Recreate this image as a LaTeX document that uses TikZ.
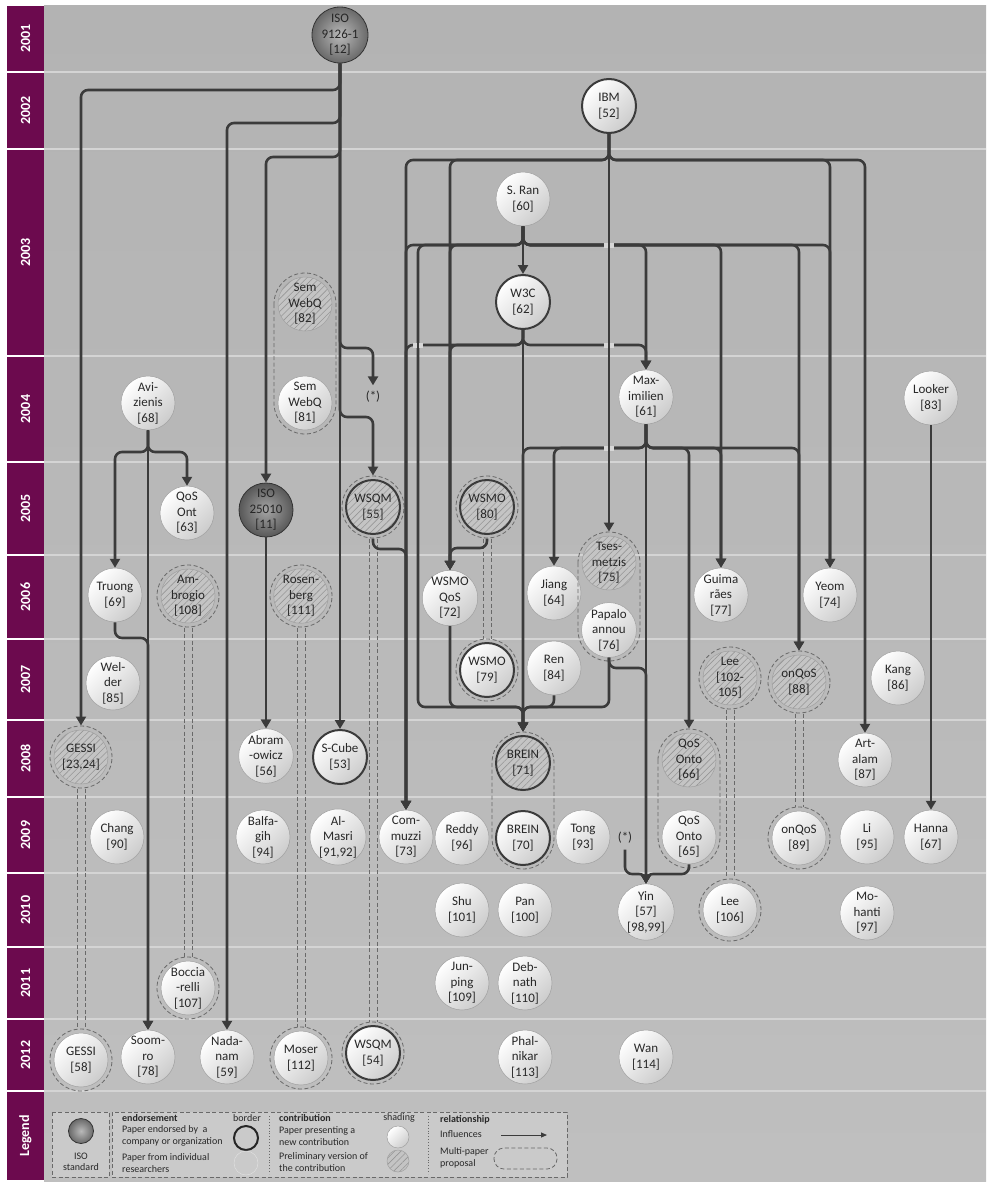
\documentclass[tikz,border=0pt]{standalone}
\usepackage{fontspec}
\newfontfamily\carlito{Carlito}
\usetikzlibrary{arrows.meta, patterns.meta, math}
\definecolor{plum}{RGB}{108,10,78}
\definecolor{bgtop}{RGB}{179,179,179}
\definecolor{bgbot}{RGB}{191,191,191}
\definecolor{wiregray}{RGB}{59,59,59}
\definecolor{txtgray}{RGB}{40,40,40}
\definecolor{rimgray}{RGB}{160,160,160}
\definecolor{hatchbg}{RGB}{196,196,196}
\definecolor{hatchline}{RGB}{150,150,150}
\definecolor{dashgray}{RGB}{105,105,105}
\definecolor{sepgray}{RGB}{212,212,212}
\definecolor{gapgray}{RGB}{215,215,215}
\definecolor{legendbg}{RGB}{202,202,202}
\definecolor{isoin}{RGB}{185,185,185}
\definecolor{isoout}{RGB}{105,105,105}
\definecolor{isodarkin}{RGB}{165,165,165}
\definecolor{isodarkout}{RGB}{88,88,88}

\newcommand{\nodefont}{\carlito\fontsize{13}{15.5}\selectfont}
\newcommand{\legendfont}{\carlito\fontsize{10}{11.5}\selectfont}
\newcommand{\rf}[1]{[#1]}

\tikzset{
  disc/.style={circle, minimum size=54pt, inner sep=0pt, align=center, font=\nodefont,
    text=txtgray, draw=rimgray, line width=0.5pt},
  paper/.style={disc, top color=white, bottom color=gray!40, shading angle=45},
  prelim/.style={disc, preaction={fill=hatchbg},
    pattern={Lines[angle=45,distance=4.5pt,line width=0.6pt]}, pattern color=hatchline},
  firm/.style={draw=wiregray, line width=2pt},
  iso/.style={disc, inner color=isoin, outer color=isoout, draw=gray!40!black,
    line width=0.8pt, text=black!85},
  grouped/.style={outer sep=4.5pt},
  ringline/.style={draw=dashgray, dash pattern=on 4pt off 2.5pt, line width=0.8pt},
  wire/.style={draw=wiregray, line width=2.6pt},
  infl/.style={wire, rounded corners=7pt, -{Triangle[width=10pt,length=9pt]}},
  startext/.style={font=\nodefont, text=txtgray, inner sep=1pt, outer sep=5pt},
  yearlabel/.style={text=white, rotate=90, font=\carlito\bfseries\fontsize{14}{14}\selectfont},
  yearline/.style={draw=sepgray, line width=1.2pt},
  lgtext/.style={font=\legendfont, text=txtgray, align=left, anchor=west, inner sep=0pt},
}

\begin{document}
\begin{tikzpicture}[x=1pt, y=-1pt]
\tikzmath{
\rg=31;
\dd=4;
}
\useasboundingbox (0,0) rectangle (986,1183);
%background
\shade[top color=bgtop, bottom color=bgbot] (44,5) rectangle (986,1181);
\foreach \y in {72,149,356,462,555,639,720,797,873,947,1019,1091}
  \draw[yearline] (44,\y) -- (986,\y);
%year band
\foreach \yt/\yb/\lab in {5/72/2001,72/149/2002,149/356/2003,356/462/2004,462/555/2005,555/639/2006,639/720/2007,720/797/2008,797/873/2009,873/947/2010,947/1019/2011,1019/1091/2012,1091/1181/Legend}{
  \fill[plum] (7,\yt+1) rectangle (44,\yb-1);
  \node[yearlabel] (yr\lab) at (25.5,{(\yt+\yb)/2}) {\lab};
}

%2001-2003
\node[iso, minimum size=56pt] (iso9126) at (340,35) {ISO\\9126-1\\\rf{12}};
\node[paper, firm] (ibm) at (609,106) {IBM\\\rf{52}};
\node[paper] (sran) at (523,199) {S. Ran\\\rf{60}};
\node[paper, firm] (w3c) at (523,302) {W3C\\\rf{62}};
\node[prelim] (sem82) at (305,304) {Sem\\WebQ\\\rf{82}};
%2004
\node[paper] (aviz) at (148,403) {Avi-\\zienis\\\rf{68}};
\node[paper] (sem81) at (305,403) {Sem\\WebQ\\\rf{81}};
\node[startext] (starA) at (373,397) {(*)};
\node[paper] (maxim) at (646,397) {Max-\\imilien\\\rf{61}};
\node[paper] (looker) at (931,398) {Looker\\\rf{83}};
%2005
\node[paper] (qosont) at (187,513) {QoS\\Ont\\\rf{63}};
\node[iso, inner color=isodarkin, outer color=isodarkout] (iso25010) at (266,510) {ISO\\25010\\\rf{11}};
\node[prelim, firm, grouped] (wsqm55) at (373,507) {WSQM\\\rf{55}};
\node[prelim, firm, grouped] (wsmo80) at (487,507) {WSMO\\\rf{80}};
%2006
\node[paper] (truong) at (115,595) {Truong\\\rf{69}};
\node[prelim, grouped] (ambrogio) at (188,596) {Am-\\brogio\\\rf{108}};
\node[prelim, grouped] (rosenberg) at (301,596) {Rosen-\\berg\\\rf{111}};
\node[paper] (wsmoqos) at (450,598) {WSMO\\QoS\\\rf{72}};
\node[paper] (jiang) at (554,593) {Jiang\\\rf{64}};
\node[prelim, grouped] (tses) at (609,563) {Tses-\\metzis\\\rf{75}};
\node[paper] (papalo) at (609,630) {Papalo\\annou\\\rf{76}};
\node[paper] (guima) at (721,595) {Guima\\rães\\\rf{77}};
\node[paper] (yeom) at (830,595) {Yeom\\\rf{74}};
%2007
\node[paper] (welder) at (113,683) {Wel-\\der\\\rf{85}};
\node[paper, firm, grouped] (wsmo79) at (487,670) {WSMO\\\rf{79}};
\node[paper] (ren) at (554,668) {Ren\\\rf{84}};
\node[prelim, grouped] (lee102) at (730,678) {Lee\\{[}102-\\105]};
\node[prelim, grouped] (onqos88) at (799,682) {onQoS\\\rf{88}};
\node[paper] (kang) at (898,678) {Kang\\\rf{86}};
%2008
\node[prelim, grouped] (gessiA) at (81,757) {GESSI\\\rf{23,24}};
\node[paper] (abram) at (266,756) {Abram\\-owicz\\\rf{56}};
\node[paper, firm] (scube) at (340,757) {S-Cube\\\rf{53}};
\node[prelim, firm, grouped] (brein71) at (523,763) {BREIN\\\rf{71}};
\node[prelim, grouped] (qosonto66) at (689,760) {QoS\\Onto\\\rf{66}};
\node[paper] (artalam) at (865,760) {Art-\\alam\\\rf{87}};
%2009
\node[paper] (chang) at (117,837) {Chang\\\rf{90}};
\node[paper] (balfagih) at (263,837) {Balfa-\\gih\\\rf{94}};
\node[paper] (almasri) at (338,837) {Al-\\Masri\\\rf{91,92}};
\node[paper] (commuzzi) at (406,837) {Com-\\muzzi\\\rf{73}};
\node[paper] (reddy) at (462,838) {Reddy\\\rf{96}};
\node[paper, firm] (brein70) at (523,838) {BREIN\\\rf{70}};
\node[paper] (tong) at (583,837) {Tong\\\rf{93}};
\node[startext] (starB) at (625,838) {(*)};
\node[paper] (qosonto65) at (689,837) {QoS\\Onto\\\rf{65}};
\node[paper, grouped] (onqos89) at (799,838) {onQoS\\\rf{89}};
\node[paper] (li) at (867,837) {Li\\\rf{95}};
\node[paper] (hanna) at (931,837) {Hanna\\\rf{67}};
%2010
\node[paper] (shu) at (462,910) {Shu\\\rf{101}};
\node[paper] (pan) at (525,910) {Pan\\\rf{100}};
\node[paper] (yin) at (646,912) {Yin\\\rf{57}\\\rf{98,99}};
\node[paper, grouped] (lee106) at (730,910) {Lee\\\rf{106}};
\node[paper] (mohanti) at (867,913) {Mo-\\hanti\\\rf{97}};
%2011
\node[paper, grouped] (boccia) at (188,988) {Boccia\\-relli\\\rf{107}};
\node[paper] (junping) at (462,983) {Jun-\\ping\\\rf{109}};
\node[paper] (debnath) at (525,983) {Deb-\\nath\\\rf{110}};
%2012
\node[paper, grouped] (gessiB) at (81,1060) {GESSI\\\rf{58}};
\node[paper] (soomro) at (148,1057) {Soom-\\ro\\\rf{78}};
\node[paper] (nadanam) at (227,1057) {Nada-\\nam\\\rf{59}};
\node[paper, grouped] (moser) at (301,1058) {Moser\\\rf{112}};
\node[paper, firm, grouped] (wsqm54) at (373,1053) {WSQM\\\rf{54}};
\node[paper] (phalnikar) at (525,1057) {Phal-\\nikar\\\rf{113}};
\node[paper] (wan) at (646,1057) {Wan\\\rf{114}};

%multi-paper proposals
\foreach \n in {wsqm55,wsmo80,ambrogio,rosenberg,wsmo79,lee102,onqos88,gessiA,onqos89,lee106,boccia,gessiB,moser,wsqm54}
  \draw[ringline] (\n) circle (\rg pt);
\foreach \a/\b in {gessiA/gessiB,ambrogio/boccia,rosenberg/moser,wsqm55/wsqm54,wsmo80/wsmo79,lee102/lee106,onqos88/onqos89}
  \foreach \s in {-1,1}
    \draw[ringline] ([xshift=\s*\dd]\a.south) -- ([xshift=\s*\dd]\b.north);
\foreach \a/\b in {sem82/sem81,tses/papalo,brein71/brein70,qosonto66/qosonto65}
  \draw[ringline, rounded corners=\rg pt] ([shift={(-\rg,-\rg)}]\a.center) rectangle ([shift={(\rg,\rg)}]\b.center);

%influences: ISO 9126-1
\draw[infl] (iso9126) -- (340,90) -| (gessiA);
\draw[infl] (iso9126) -- (340,123) -| (nadanam);
\draw[infl] (iso9126) -- (340,157) -| (iso25010);
\draw[infl] (iso9126) -- (340,348) -| (starA);
\draw[infl] (iso9126) -- (340,417) -| (wsqm55);
\draw[infl] (iso9126) -- (scube);
%IBM
\draw[infl] (ibm) -- (609,160) -| (commuzzi);
\draw[infl] (ibm) -- (609,160) -| (wsmoqos);
\draw[infl] (ibm) -- (tses);
\draw[infl] (ibm) -- (609,160) -| (yeom);
\draw[infl] (ibm) -- (609,160) -| (artalam);
%S. Ran
\draw[infl] (sran) -- (w3c);
\draw[infl] (sran) -- (523,245) -| (commuzzi);
\draw[infl] (sran) -- (523,245) -| (418,707) -| (brein71);
\draw[infl] (sran) -- (523,245) -| (wsmoqos);
\draw[infl] (sran) -- (523,245) -| (maxim);
\draw[infl] (sran) -- (523,245) -| (guima);
\draw[infl] (sran) -- (523,245) -| (onqos88);
\draw[infl] (sran) -- (523,245) -| (yeom);
%W3C
\draw[infl] (w3c) -- (523,345) -| (commuzzi);
\draw[infl] (w3c) -- (523,345) -| (wsmoqos);
\draw[infl] (w3c) -- (523,345) -| (maxim);
\draw[infl] (w3c) -- (brein71);
%Maximilien
\draw[infl] (maxim) -- (646,448) -| (brein71);
\draw[infl] (maxim) -- (646,448) -| (jiang);
\draw[infl] (maxim) -- (yin);
\draw[infl] (maxim) -- (646,448) -| (qosonto66);
\draw[infl] (maxim) -- (646,448) -| (guima);
\draw[infl] (maxim) -- (646,448) -| (onqos88);
%Avizienis
\draw[infl] (aviz) -- (148,452) -| (truong);
\draw[infl] (aviz) -- (148,452) -| (qosont);
\draw[infl] (aviz) -- (soomro);
\draw[infl] (truong) -- (115,638) -| (soomro);
%others
\draw[infl] (iso25010) -- (abram);
\draw[infl] (looker) -- (hanna);
\draw[infl] (wsqm55) -- (373,549) -| (commuzzi);
\draw[infl] (wsmo80) -- (487,548) -| (wsmoqos);
\draw[infl] (wsmoqos) -- (450,707) -| (brein71);
\draw[infl] (ren) -- (554,707) -| (brein71);
\draw[infl] (papalo) -- (609,707) -| (brein71);
\draw[infl] (papalo) -- (609,668) -| (yin);
\draw[infl] (qosonto65) -- (689,874) -| (yin);
\draw[infl] (starB) -- (625,874) -| (yin);

%crossings
\foreach \cx/\cy in {609/245,609/345,609/448,418/345}{
  \fill[gapgray] (\cx-5,\cy-2.5) rectangle (\cx+5,\cy+2.5);
  \draw[wire] (\cx,\cy-4.5) -- (\cx,\cy+4.5);
}

%legend
\draw[ringline, fill=legendbg] (52,1112) rectangle (109,1177);
\draw[ringline, fill=legendbg] (112,1112) rectangle (567,1177);
\draw[dashgray, dotted, line width=0.9pt] (269,1116) -- (269,1174);
\draw[dashgray, dotted, line width=0.9pt] (428,1116) -- (428,1174);

\node[iso, minimum size=25pt] (lgIso) at (81,1131) {};
\node[font=\legendfont, text=txtgray, align=center, inner sep=0pt] (lgIsoTxt) at (81,1162) {ISO\\standard};

\node[lgtext] (lgEnd) at (122,1118) {\bfseries endorsement};
\node[lgtext] (lgEndA) at (122,1136) {Paper endorsed by\ \ a\\company or organization};
\node[lgtext] (lgEndB) at (122,1163) {Paper from individual\\researchers};
\node[font=\legendfont, text=txtgray, inner sep=0pt] (lgBorder) at (247,1118) {border};
\node[disc, minimum size=24pt, draw=black!85, line width=2pt] (lgFirm) at (246,1138) {};
\node[disc, minimum size=24pt, draw=gray!25] (lgIndiv) at (246,1163) {};

\node[lgtext] (lgCon) at (279,1118) {\bfseries contribution};
\node[lgtext] (lgConA) at (279,1136) {Paper presenting a\\new contribution};
\node[lgtext] (lgConB) at (279,1162) {Preliminary version of\\the contribution};
\node[font=\legendfont, text=txtgray, inner sep=0pt] (lgShading) at (399,1118) {shading};
\node[paper, minimum size=22pt] (lgNew) at (398,1137) {};
\node[prelim, minimum size=22pt] (lgPre) at (398,1161) {};

\node[lgtext] (lgRel) at (440,1120) {\bfseries relationship};
\node[lgtext] (lgInfl) at (440,1134) {Influences};
\node[lgtext] (lgMulti) at (440,1158) {Multi-paper\\proposal};
\coordinate (lgArrA) at (501,1135);
\coordinate (lgArrB) at (547,1135);
\draw[wiregray, line width=1pt, -{Triangle[width=5pt,length=6pt]}] (lgArrA) -- (lgArrB);
\draw[ringline, rounded corners=10pt] (494,1148) rectangle (557,1169);
\end{tikzpicture}
\end{document}
